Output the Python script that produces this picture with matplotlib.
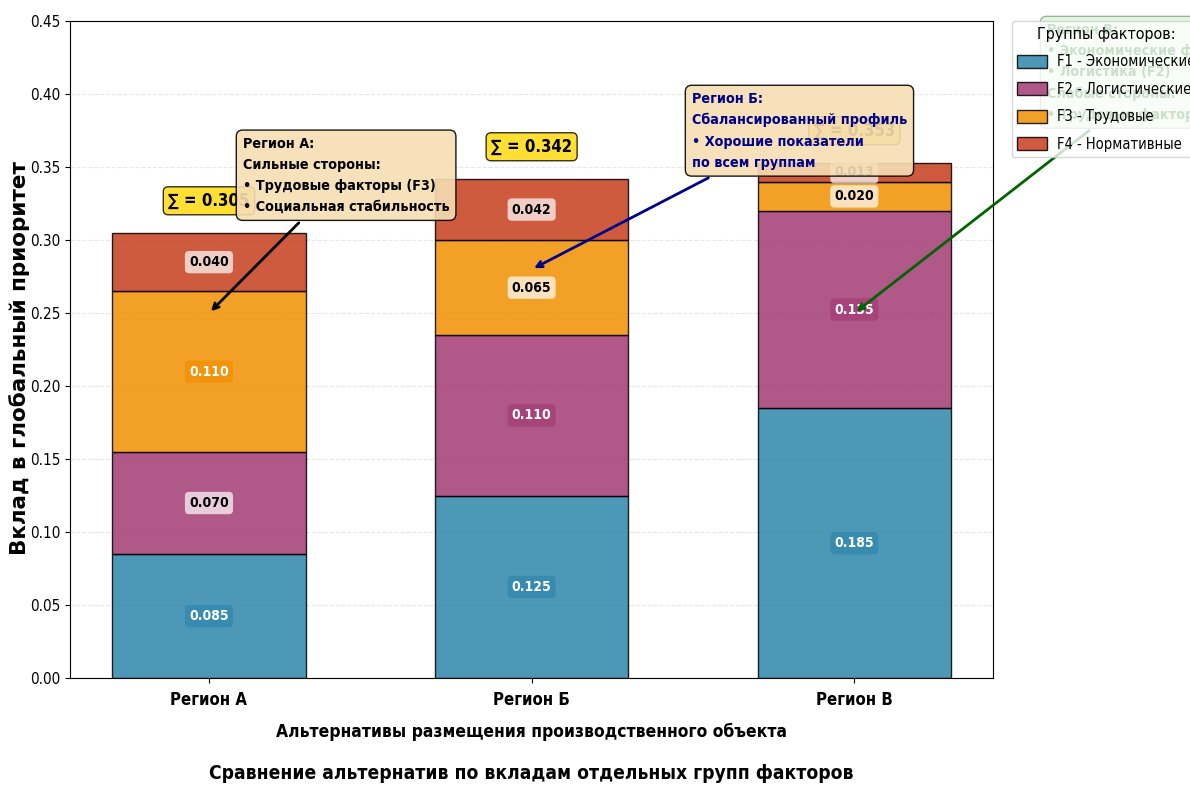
import matplotlib
matplotlib.use("Agg")
import matplotlib.pyplot as plt
import numpy as np

plt.rcParams['font.family'] = ['DejaVu Sans']
plt.rcParams['font.stretch'] = 'condensed'

# данные
regions = ["Регион А", "Регион Б", "Регион В"]
groups = ["F1 - Экономические", "F2 - Логистические", "F3 - Трудовые", "F4 - Нормативные"]
f1 = [0.085, 0.125, 0.185]
f2 = [0.070, 0.110, 0.135]
f3 = [0.110, 0.065, 0.020]
f4 = [0.040, 0.042, 0.013]
totals = [0.305, 0.342, 0.353]

colors = ['#2E86AB', '#A23B72', '#F18F01', '#C73E1D']

fig, ax = plt.subplots(figsize=(11.9, 7.85), dpi=100)
fig.subplots_adjust(left=0.059, right=0.8345, top=0.973, bottom=0.136)

x = np.arange(len(regions))
bottom = np.zeros(len(regions))
for vals, name, col in zip([f1, f2, f3, f4], groups, colors):
    ax.bar(x, vals, 0.6, bottom=bottom, color=col, alpha=0.85,
           edgecolor='black', linewidth=1, label=name)
    # подписи внутри сегментов
    for i, v in enumerate(vals):
        yc = bottom[i] + v / 2
        if v > 0.08:
            ax.text(x[i], yc, f"{v:.3f}", ha='center', va='center', fontsize=10,
                    fontweight='bold', color='white',
                    bbox=dict(boxstyle='round,pad=0.3', facecolor=col, alpha=0.7, edgecolor='none'))
        else:
            ax.text(x[i], yc, f"{v:.3f}", ha='center', va='center', fontsize=10,
                    fontweight='bold', color='black',
                    bbox=dict(boxstyle='round,pad=0.3', facecolor='white', alpha=0.7, edgecolor='none'))
    bottom += np.array(vals)

# суммы
for i, t in enumerate(totals):
    ax.text(x[i], t + 0.022, f"∑ = {t:.3f}", ha='center', va='center', fontsize=12,
            fontweight='bold',
            bbox=dict(boxstyle='round,pad=0.3', facecolor='gold', alpha=0.8, edgecolor='black'))

# аннотации
ax.annotate("Регион А:\nСильные стороны:\n• Трудовые факторы (F3)\n• Социальная стабильность",
            xy=(0, 0.25), xytext=(0.425, 0.3445), ha='center', va='center',
            fontsize=10.3, fontweight='bold', color='black', multialignment='left', linespacing=1.65,
            bbox=dict(boxstyle='round,pad=0.45', facecolor='wheat', alpha=0.9, edgecolor='black'),
            arrowprops=dict(arrowstyle='->', color='black', lw=2))
ax.annotate("Регион Б:\nСбалансированный профиль\n• Хорошие показатели\nпо всем группам",
            xy=(1, 0.28), xytext=(1.83, 0.375), ha='center', va='center',
            fontsize=10.3, fontweight='bold', color='darkblue', multialignment='left', linespacing=1.65,
            bbox=dict(boxstyle='round,pad=0.45', facecolor='wheat', alpha=0.9, edgecolor='black'),
            arrowprops=dict(arrowstyle='->', color='darkblue', lw=2))
ax.annotate("Регион В:\n• Экономические факторы (F1)\n• Логистика (F2)\nСлабые стороны:\n• Трудовые факторы (F3)",
            xy=(2, 0.25), xytext=(2.96, 0.415), ha='center', va='center',
            fontsize=10.3, fontweight='bold', color='darkgreen', multialignment='left', linespacing=1.65,
            bbox=dict(boxstyle='round,pad=0.45', facecolor='lightgreen', alpha=0.3, edgecolor='black'),
            arrowprops=dict(arrowstyle='->', color='darkgreen', lw=2),
            annotation_clip=False)

ax.set_ylim(0, 0.45)
ax.set_xticks(x)
ax.set_xticklabels(regions, fontsize=12, fontweight='bold')
ax.tick_params(axis='x', pad=6)
ax.set_yticks(np.arange(0, 0.451, 0.05))
ax.tick_params(axis='y', labelsize=11)
ax.set_xlabel("Альтернативы размещения производственного объекта", fontsize=12.5,
              fontweight='bold', labelpad=10)
ax.set_ylabel("Вклад в глобальный приоритет", fontsize=15.5, fontweight='bold',
              fontstretch='normal')
ax.yaxis.set_label_coords(-0.044, 0.487)
ax.grid(axis='y', linestyle='--', alpha=0.3)
ax.set_axisbelow(True)

leg = ax.legend(title="Группы факторов:", loc='upper left', bbox_to_anchor=(1.02, 1.0),
                borderaxespad=0, fontsize=10.5, title_fontsize=11.5, framealpha=0.8,
                labelspacing=0.85, handleheight=1.0, handletextpad=0.7)
leg.set_zorder(10)

ax.text(0.5, -0.1446, "Сравнение альтернатив по вкладам отдельных групп факторов",
        transform=ax.transAxes, ha='center', va='center', fontsize=13.8, fontweight='bold')

fig.savefig("out.png", dpi=100)
